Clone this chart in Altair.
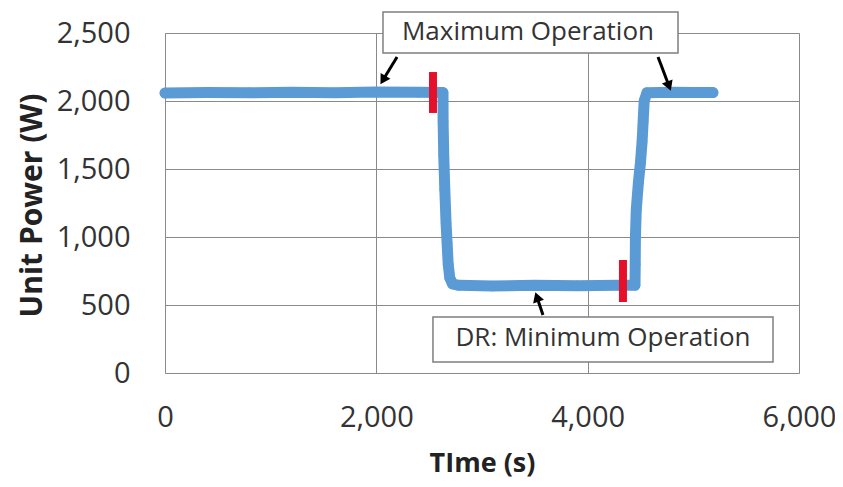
import altair as alt
import pandas as pd

# ---- data ----
time_s = [0, 400, 800, 1200, 1600, 2000, 2400, 2631, 2632, 2638, 2648, 2660, 2670, 2680,
          2695, 2720, 2780, 3100, 3500, 3900, 4300, 4448, 4450, 4452, 4460, 4480, 4500,
          4515, 4525, 4535, 4560, 4800, 5000, 5186]
power_w = [2058, 2062, 2060, 2064, 2060, 2066, 2064, 2062, 1850, 1600, 1350, 1100, 950, 800,
           700, 655, 645, 640, 645, 642, 645, 645, 800, 1000, 1200, 1400, 1550,
           1700, 1850, 2000, 2060, 2064, 2062, 2062]

red_x = [2536, 4334]
red_lo = [1912, 522]
red_hi = [2213, 831]

note_text = ["Maximum Operation", "DR: Minimum Operation"]
box_x0 = [2063, 2536]
box_x1 = [4855, 5754]
box_y0 = [2353, 81]
box_y1 = [2654, 412]
text_x = [3435, 4145]
text_y = [2507, 257]

arrow_x0 = [2196, 4666, 3577]
arrow_y0 = [2324, 2324, 426]
arrow_x1 = [2063, 4770, 3520]
arrow_y1 = [2154, 2110, 559]
arrow_angle = [211, 159, 341]

x_ticks = [0, 2000, 4000, 6000]
y_ticks = [0, 500, 1000, 1500, 2000, 2500]

series = pd.DataFrame({"t": time_s, "p": power_w})
reds = pd.DataFrame({"x": red_x, "lo": red_lo, "hi": red_hi})
boxes = pd.DataFrame({"x0": box_x0, "x1": box_x1, "y0": box_y0, "y1": box_y1,
                      "tx": text_x, "ty": text_y, "label": note_text})
arrows = pd.DataFrame({"x0": arrow_x0, "y0": arrow_y0, "x1": arrow_x1, "y1": arrow_y1,
                       "ang": arrow_angle})

FONT = "Open Sans"
BLUE = "#5b9bd5"

xs = alt.Scale(domain=[0, 6000], nice=False)
ys = alt.Scale(domain=[0, 2500], nice=False)

x_axis = alt.Axis(values=x_ticks, format=",.0f", labelFontSize=29, labelFont=FONT,
                  labelColor="#333333", labelPadding=30, labelFlush=False, ticks=False,
                  domain=False, grid=True, gridColor="#8a8a8a", gridWidth=1,
                  title="TIme (s)", titleFont=FONT, titleFontSize=27, titleFontWeight="bold",
                  titleColor="#222222", titleY=77, titleBaseline="top")
y_axis = alt.Axis(values=y_ticks, format=",.0f", labelFontSize=29, labelFont=FONT,
                  labelColor="#333333", labelPadding=35, ticks=False, domain=False,
                  grid=True, gridColor="#8a8a8a", gridWidth=1,
                  title="Unit Power (W)", titleFont=FONT, titleFontSize=30,
                  titleFontWeight="bold", titleColor="#222222", titleX=-133, titleY=172,
                  titleBaseline="middle")

base = alt.Chart(series)

line = base.mark_line(color=BLUE, strokeWidth=11, strokeCap="round", strokeJoin="round").encode(
    x=alt.X("t:Q", scale=xs, axis=x_axis),
    y=alt.Y("p:Q", scale=ys, axis=y_axis),
    order="t:Q",
)
pts = base.mark_circle(color=BLUE, size=110, opacity=1).encode(
    x=alt.X("t:Q", scale=xs), y=alt.Y("p:Q", scale=ys)
)

red = alt.Chart(reds).mark_rule(color="#e5102a", strokeWidth=8).encode(
    x=alt.X("x:Q", scale=xs), y=alt.Y("lo:Q", scale=ys), y2="hi:Q"
)

rects = alt.Chart(boxes).mark_rect(fill="white", stroke="#7f7f7f", strokeWidth=1.5).encode(
    x=alt.X("x0:Q", scale=xs), x2="x1:Q", y=alt.Y("y0:Q", scale=ys), y2="y1:Q"
)
texts = alt.Chart(boxes).mark_text(font=FONT, fontSize=26, color="#333333",
                                   baseline="middle", align="center").encode(
    x=alt.X("tx:Q", scale=xs), y=alt.Y("ty:Q", scale=ys), text="label:N"
)

arrow_lines = alt.Chart(arrows).mark_rule(color="black", strokeWidth=3).encode(
    x=alt.X("x0:Q", scale=xs), y=alt.Y("y0:Q", scale=ys), x2="x1:Q", y2="y1:Q"
)
arrow_heads = alt.Chart(arrows).mark_point(shape="triangle-up", filled=True, color="black",
                                           size=130, opacity=1).encode(
    x=alt.X("x1:Q", scale=xs), y=alt.Y("y1:Q", scale=ys),
    angle=alt.Angle("ang:Q", scale=None)
)

chart = alt.layer(line, pts, red, rects, texts, arrow_lines, arrow_heads).properties(
    width=634, height=340,
    autosize=alt.AutoSizeParams(type="none"),
    padding={"left": 157, "top": 25, "right": 36, "bottom": 106},
).configure_view(stroke="#8a8a8a", strokeWidth=1).configure(background="white")

chart.save("out.html", embed_options={"renderer": "svg", "actions": False})
